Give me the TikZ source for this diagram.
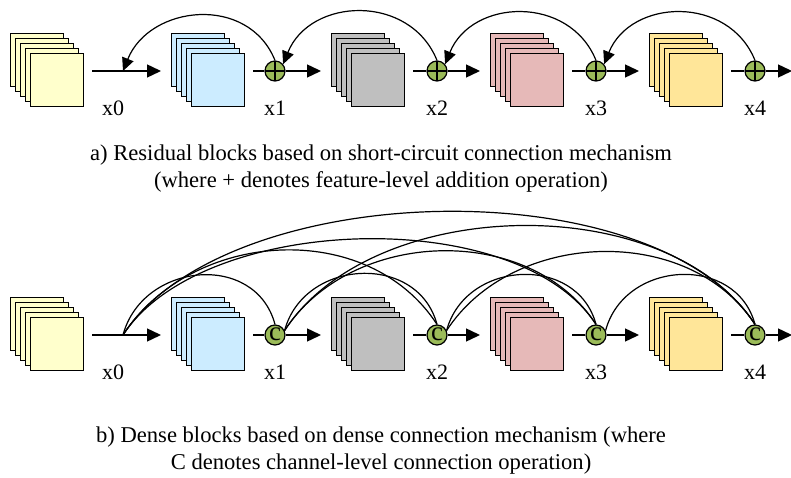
\documentclass[tikz,border=0pt]{standalone}
\usepackage{fontspec}
\setmainfont{Liberation Serif}
\usepackage{tikz}
\usetikzlibrary{arrows.meta, calc, positioning}
\definecolor{stackyel}{HTML}{FFFFCC}
\definecolor{stackblu}{HTML}{CCECFF}
\definecolor{stackgry}{HTML}{BFBFBF}
\definecolor{stackpnk}{HTML}{E6B9B8}
\definecolor{stackorg}{HTML}{FFE699}
\definecolor{opgreen}{HTML}{9BBB59}

\begin{document}
\begin{tikzpicture}[x=1pt, y=1pt,
    layer/.style={draw, line width=1.4pt, minimum size=53pt, inner sep=0pt},
    plusop/.style={circle, draw, line width=1.2pt, fill=opgreen, minimum size=20pt, inner sep=0pt,
        path picture={\draw[line width=1.1pt] (path picture bounding box.north) -- (path picture bounding box.south)
            (path picture bounding box.west) -- (path picture bounding box.east);}},
    catop/.style={circle, draw, line width=1.2pt, fill=opgreen, minimum size=20pt, inner sep=0pt,
        font=\fontsize{27}{27}\selectfont},
    lab/.style={font=\fontsize{22}{22}\selectfont, inner sep=0pt},
    capt/.style={font=\fontsize{22.6}{27}\selectfont, align=center, inner sep=0pt},
    link/.style={line width=1.4pt},
    arr/.style={line width=1.4pt, -{Triangle[length=14pt, width=13pt]}},
    skip/.style={line width=1.2pt},
    skiparr/.style={line width=1.2pt, -{Triangle[length=13pt, width=12pt]}}]
    \useasboundingbox (0,0) rectangle (791,477);

    % stacks of feature maps, both rows
    \foreach \r/\y in {a/406, b/142} {
        \foreach \n/\x/\col in {1/47/stackyel, 2/208/stackblu, 3/368/stackgry, 4/527/stackpnk, 5/686/stackorg} {
            \coordinate (s\r\n) at (\x,\y);
            \foreach \k in {0,...,4}
                \node[layer, fill=\col] (s\r\n-\k) at (\x-10+5*\k, \y+11-5*\k) {};
        }
        \coordinate (j\r) at (123,\y);
        \coordinate (e\r) at (792,\y);
        \node[lab] (l\r0) at (113,\y-37) {x0};
    }

    % a) residual row
    \node[plusop] (ca1) at (275,406) {};
    \node[plusop] (ca2) at (437,406) {};
    \node[plusop] (ca3) at (596,406) {};
    \node[plusop] (ca4) at (755,406) {};
    % b) dense row
    \node[catop] (cb1) at (275,142) {\raisebox{1pt}{c}};
    \node[catop] (cb2) at (437,142) {\raisebox{1pt}{c}};
    \node[catop] (cb3) at (596,142) {\raisebox{1pt}{c}};
    \node[catop] (cb4) at (755,142) {\raisebox{1pt}{c}};

    \foreach \r/\y in {a/406, b/142} {
        \draw[arr] ([xshift=45pt]s\r1) -- ([xshift=-47pt]s\r2);
        \foreach \i [evaluate=\i as \j using int(\i+1), evaluate=\i as \m using int(\i+2)] in {1,2,3} {
            \draw[link] ([xshift=45pt]s\r\j) -- (c\r\i);
            \draw[arr] (c\r\i) -- ([xshift=-47pt]s\r\m);
        }
        \draw[link] ([xshift=45pt]s\r5) -- (c\r4);
        \draw[arr] (c\r4) -- (e\r);
        \foreach \i in {1,...,4}
            \node[lab] (l\r\i) at (c\r\i |- l\r0) {x\i};
    }

    % short-circuit connections
    \draw[skiparr] (ca1.north) to[out=112, in=68, looseness=1.2] (ja);
    \draw[skiparr] (ca2.north) to[out=112, in=68, looseness=1.2] (ca1.40);
    \draw[skiparr] (ca3.north) to[out=112, in=68, looseness=1.2] (ca2.40);
    \draw[skiparr] (ca4.north) to[out=112, in=68, looseness=1.2] (ca3.40);

    % dense connections
    \coordinate (ob0) at (jb);
    \foreach \i in {1,2,3}
        \coordinate (ob\i) at (cb\i.25);
    \foreach \s/\e/\o/\l in {0/1/75/1.27, 1/2/75/1.25, 2/3/75/1.25, 3/4/75/1.25,
                             0/2/57/1.03, 1/3/57/1.0, 2/4/57/1.0,
                             0/3/57/0.78, 1/4/57/0.88, 0/4/57/0.76}
        \draw[skip] (ob\s) to[out=\o, in=180-\o, looseness=\l] (cb\e.north);

    \node[capt] (capa) at (381,308.5) {a) Residual blocks based on short-circuit connection mechanism\\(where + denotes feature-level addition operation)};
    \node[capt] (capb) at (381,26.5) {b) Dense blocks based on dense connection mechanism (where\\C denotes channel-level connection operation)};
\end{tikzpicture}
\end{document}
